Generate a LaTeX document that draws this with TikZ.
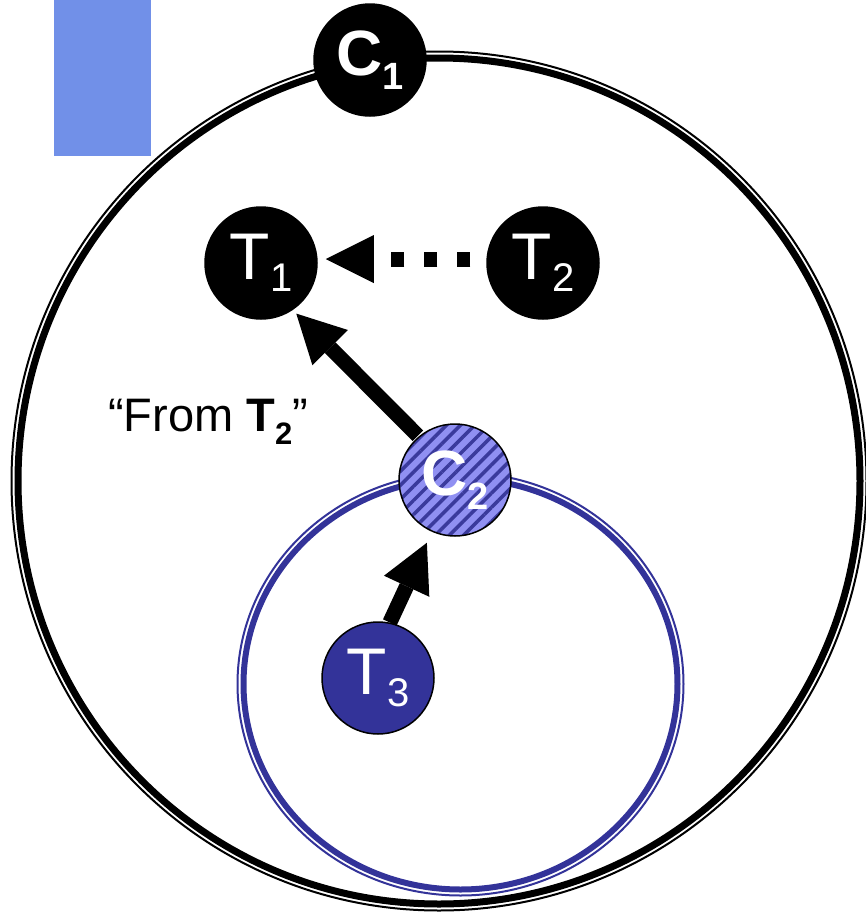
\documentclass[tikz,border=0pt]{standalone}
\usepackage{fontspec}
\setmainfont{Liberation Sans}
\usetikzlibrary{arrows.meta,patterns.meta}
\definecolor{navy}{HTML}{333399}
\definecolor{rectblue}{HTML}{7190E8}
\definecolor{hatchbg}{HTML}{9090F2}
\definecolor{hatchfg}{HTML}{3A3A9C}
\newcommand\subT[1]{\raisebox{-12pt}{\fontsize{40pt}{40pt}\selectfont #1}}
\newcommand\subC[1]{\raisebox{-14pt}{\fontsize{38pt}{38pt}\selectfont\bfseries #1}}
\begin{document}
\begin{tikzpicture}[x=1pt,y=-1pt,
  tnode/.style={circle,draw=black,line width=1.5pt,minimum size=112pt,inner sep=0pt,
    text=white,font=\fontsize{66pt}{66pt}\selectfont},
  cnode/.style={tnode,font=\fontsize{64pt}{64pt}\selectfont\bfseries},
  bigarrow/.style={line width=15pt,-{Triangle[length=48pt,width=50pt,line width=0pt]}},
  dasharrow/.style={line width=15pt,dash pattern=on 13pt off 20pt,
    -{Triangle[length=48pt,width=48pt,line width=0pt]}},
  thickring/.style={line width=7pt},
  thinring/.style={line width=2pt}]
\useasboundingbox (0,0) rectangle (866,914);
% blue block
\fill[rectblue] (54,0) rectangle (151,156);
% outer double ellipse
\draw[thickring,black] (439,481) ellipse [x radius=421pt, y radius=423pt];
\draw[thinring,black] (439,481) ellipse [x radius=427.5pt, y radius=429.5pt];
% inner double ellipse
\draw[thickring,navy,line width=6pt] (460.5,684) ellipse [x radius=217pt, y radius=205.5pt];
\draw[thinring,navy] (460.5,684) ellipse [x radius=223pt, y radius=211.5pt];
% nodes
\node[cnode,fill=black] (C1) at (370,60) {C\subC{1}};
\node[tnode,fill=black] (T1) at (261,263) {T\subT{1}};
\node[tnode,fill=black] (T2) at (543,263) {T\subT{2}};
\node[cnode,preaction={fill=hatchbg},
      pattern={Lines[angle=45,distance=10pt,line width=3.5pt]},pattern color=hatchfg]
      (C2) at (455,480) {C\subC{2}};
\node[tnode,fill=navy] (T3) at (378,678) {T\subT{3}};
% arrows
\draw[dasharrow] ([xshift=-16pt,yshift=4pt]T2.west) -- ([xshift=8pt,yshift=4pt]T1.east);
\draw[bigarrow,shorten >=5pt] (C2.130) -- (T1.-56);
\draw[bigarrow,shorten >=11pt] (T3.78) -- (C2.246);
% label
\node[anchor=base,font=\fontsize{47pt}{47pt}\selectfont] (lbl) at (208,431)
  {“From \textbf{T\raisebox{-13pt}{\fontsize{31pt}{31pt}\selectfont 2}}”};
\end{tikzpicture}
\end{document}
